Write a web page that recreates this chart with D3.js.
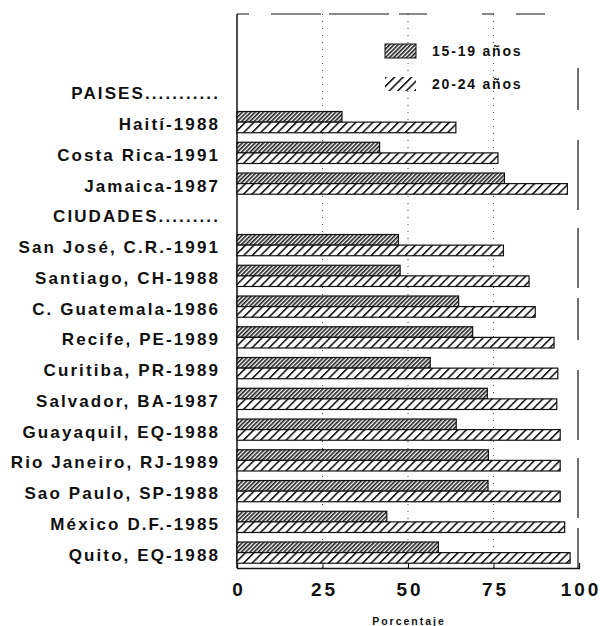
<!DOCTYPE html>
<html>
<head>
<meta charset="utf-8">
<script src="https://cdn.jsdelivr.net/npm/d3@7"></script>
<style>
  body { margin: 0; background: #fff; }
  text { font-family: "Liberation Sans", Arial, sans-serif; font-weight: bold; fill: #111; }
</style>
</head>
<body>
<script>
// rows (section headers have no bars)
var categories = ["PAISES...........", "Haití-1988", "Costa Rica-1991", "Jamaica-1987",
    "CIUDADES.........", "San José, C.R.-1991", "Santiago, CH-1988", "C. Guatemala-1986",
    "Recife, PE-1989", "Curitiba, PR-1989", "Salvador, BA-1987", "Guayaquil, EQ-1988",
    "Rio Janeiro, RJ-1989", "Sao Paulo, SP-1988", "México D.F.-1985", "Quito, EQ-1988"];
var series = ["15-19 años", "20-24 años"];
var values1519 = [null, 30.7, 41.7, 78.2, null, 47.2, 47.7, 64.8, 68.9, 56.5, 73.2, 64.1, 73.5, 73.4, 43.8, 58.9];
var values2024 = [null, 64.0, 76.3, 96.6, null, 77.9, 85.4, 87.2, 92.7, 93.8, 93.5, 94.5, 94.5, 94.5, 95.8, 97.4];
var xTicks = [0, 25, 50, 75, 100];

var width = 600, height = 626;
var svg = d3.select("body").append("svg")
    .attr("width", width)
    .attr("height", height);

// patterns
var defs = svg.append("defs");
var p1 = defs.append("pattern")
    .attr("id", "fine")
    .attr("patternUnits", "userSpaceOnUse")
    .attr("width", 3).attr("height", 3)
    .attr("patternTransform", "rotate(45)");
p1.append("rect").attr("width", 3).attr("height", 3).attr("fill", "#fff");
p1.append("line").attr("x1", 0.8).attr("y1", 0).attr("x2", 0.8).attr("y2", 3)
    .attr("stroke", "#222").attr("stroke-width", 1.7);

var p2 = defs.append("pattern")
    .attr("id", "coarse")
    .attr("patternUnits", "userSpaceOnUse")
    .attr("width", 8.5).attr("height", 11)
    .attr("patternTransform", "skewX(-45)");
p2.append("rect").attr("width", 8.5).attr("height", 11).attr("fill", "#fff");
p2.append("line").attr("x1", 1.2).attr("y1", 0).attr("x2", 1.2).attr("y2", 11)
    .attr("stroke", "#111").attr("stroke-width", 2.2);

var x = d3.scaleLinear().domain([0, 100]).range([237, 579]);
var y = d3.scaleBand().domain(categories).range([76, 568]).paddingInner(0.31).paddingOuter(0.155);
var ySub = d3.scaleBand().domain(series).range([0, y.bandwidth()]);

// gridlines
svg.append("g").selectAll("line")
    .data([25, 50, 75])
    .enter().append("line")
    .attr("x1", function (d) { return x(d); })
    .attr("x2", function (d) { return x(d); })
    .attr("y1", 14).attr("y2", 568)
    .attr("stroke", "#444").attr("stroke-width", 1)
    .attr("stroke-dasharray", "1,6");

// frame (broken, like the scan)
svg.append("line").attr("x1", 237).attr("x2", 545).attr("y1", 14).attr("y2", 14)
    .attr("stroke", "#111").attr("stroke-width", 1.2).attr("stroke-dasharray", "12,22,50,8,60,10,28,55");
svg.append("line").attr("x1", 578).attr("x2", 578).attr("y1", 68).attr("y2", 568)
    .attr("stroke", "#111").attr("stroke-width", 1.2).attr("stroke-dasharray", "42,30,70,18,60,10");
svg.append("line").attr("x1", 237).attr("x2", 237).attr("y1", 14).attr("y2", 568)
    .attr("stroke", "#111").attr("stroke-width", 1.5);

// bars
var rows = categories.map(function (c, i) {
    return { cat: c, vals: [values1519[i], values2024[i]] };
});
var g = svg.append("g").selectAll("g")
    .data(rows.filter(function (d) { return d.vals[0] != null; }))
    .enter().append("g")
    .attr("transform", function (d) { return "translate(0," + y(d.cat) + ")"; });

g.selectAll("rect")
    .data(function (d) { return d.vals.map(function (v, i) { return { s: series[i], v: v }; }); })
    .enter().append("rect")
    .attr("x", x(0))
    .attr("y", function (d) { return ySub(d.s); })
    .attr("width", function (d) { return x(d.v) - x(0); })
    .attr("height", ySub.bandwidth())
    .attr("fill", function (d, i) { return i == 0 ? "url(#fine)" : "url(#coarse)"; })
    .attr("stroke", "#111")
    .attr("stroke-width", 1.2);

// category labels
svg.append("g").selectAll("text")
    .data(categories)
    .enter().append("text")
    .attr("x", 220)
    .attr("y", function (d) { return y(d) + y.bandwidth() / 2 + 2; })
    .attr("dy", "0.35em")
    .attr("text-anchor", "end")
    .attr("font-size", 17)
    .attr("letter-spacing", 2.1)
    .text(function (d) { return d; });

// bottom axis
var xAxis = svg.append("g")
    .attr("transform", "translate(0,568)")
    .call(d3.axisBottom(x).tickValues(xTicks).tickSize(-5).tickPadding(15));
xAxis.select(".domain").attr("stroke", "#111").attr("stroke-width", 1.3);
xAxis.selectAll("line").attr("stroke", "#111");
xAxis.selectAll("text")
    .attr("font-size", 19)
    .attr("letter-spacing", 3)
    .attr("dx", 1.5)
    .style("font-family", "'Liberation Sans', Arial, sans-serif")
    .style("font-weight", "bold")
    .attr("fill", "#111");

svg.append("text")
    .attr("x", x(50) + 1)
    .attr("y", 625)
    .attr("text-anchor", "middle")
    .attr("font-size", 10.5)
    .attr("letter-spacing", 2)
    .text("Porcentaje");

// legend
var legend = svg.append("g").selectAll("g")
    .data(series)
    .enter().append("g")
    .attr("transform", function (d, i) { return "translate(385," + (44 + i * 33) + ")"; });
legend.append("rect")
    .attr("width", 31).attr("height", 14)
    .attr("fill", function (d, i) { return i == 0 ? "url(#fine)" : "url(#coarse)"; })
    .attr("stroke", function (d, i) { return i == 0 ? "#111" : "none"; });
legend.append("text")
    .attr("x", 47).attr("y", 7).attr("dy", "0.35em")
    .attr("font-size", 14)
    .attr("letter-spacing", 1.8)
    .text(function (d) { return d; });
</script>
</body>
</html>
